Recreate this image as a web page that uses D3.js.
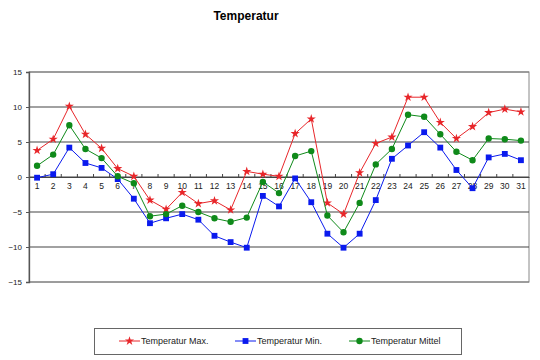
<!DOCTYPE html>
<html><head><meta charset="utf-8">
<script src="https://cdn.jsdelivr.net/npm/d3@7"></script>
<style>body{margin:0;background:#fff}svg{display:block;font-family:Arial,"Liberation Sans",sans-serif}</style>
</head><body><svg id="c" width="540" height="360"></svg>
<script>
const days = d3.range(1, 32).map(String);
const tempMax = [3.8,5.4,10.1,6.1,4.1,1.2,0.1,-3.3,-4.6,-2.2,-3.8,-3.4,-4.7,0.8,0.4,0.1,6.2,8.3,-3.7,-5.3,0.6,4.8,5.7,11.4,11.4,7.8,5.5,7.2,9.2,9.7,9.3];
const tempMin = [-0.1,0.4,4.2,2.0,1.3,-0.3,-3.1,-6.6,-5.9,-5.3,-6.1,-8.4,-9.3,-10.1,-2.7,-4.2,-0.2,-3.6,-8.1,-10.1,-8.1,-3.3,2.6,4.5,6.4,4.2,1.0,-1.6,2.8,3.3,2.4];
const tempMittel = [1.6,3.2,7.4,4.0,2.7,0.1,-0.9,-5.6,-5.3,-4.1,-5.0,-5.9,-6.4,-5.8,-0.7,-2.3,3.0,3.7,-5.5,-7.9,-3.7,1.8,4.0,8.9,8.6,6.1,3.6,2.4,5.5,5.4,5.2];
const yTicks = [-15,-10,-5,0,5,10,15];
const seriesNames = ["Temperatur Max.","Temperatur Min.","Temperatur Mittel"];
const title = "Temperatur";

const series = [
  {name: seriesNames[0], values: tempMax, color: "#e8262a", symbol: d3.symbolStar, size: 26},
  {name: seriesNames[1], values: tempMin, color: "#0a1aee", symbol: d3.symbolSquare, size: 34},
  {name: seriesNames[2], values: tempMittel, color: "#0f8a1a", symbol: d3.symbolCircle, size: 32}
];

const svg = d3.select("#c");
const L = 29, R = 529, T = 72, B = 282;
const x = d3.scaleBand().domain(days).range([L, R]);
const y = d3.scaleLinear().domain([-15, 15]).range([B, T]);

svg.append("text").attr("x", 246).attr("y", 20).attr("text-anchor", "middle")
  .attr("font-size", 12).attr("font-weight", "bold").text(title);

// plot frame
svg.append("rect").attr("x", L).attr("y", T).attr("width", R - L).attr("height", B - T)
  .attr("fill", "none").attr("stroke", "#888").attr("stroke-width", 1);

// gridlines
svg.append("g").selectAll("line").data(yTicks).join("line")
  .attr("x1", L).attr("x2", R).attr("y1", d => y(d)).attr("y2", d => y(d))
  .attr("stroke", d => (d === 15 || d === -15) ? "#777" : "#444").attr("stroke-width", 1.2);

// y axis
const ya = svg.append("g").attr("transform", `translate(${L},0)`)
  .call(d3.axisLeft(y).tickValues(yTicks).tickSize(3).tickPadding(4).tickFormat(d3.format("d")));
ya.select(".domain").attr("stroke", "#555").attr("stroke-width", 1.3);
ya.selectAll("line").attr("stroke", "#555");
ya.selectAll("text").attr("font-size", 8).attr("fill", "#222").attr("font-family", "Arial, 'Liberation Sans', sans-serif");

// x axis at 0
const xa = svg.append("g").attr("transform", `translate(0,${y(0)})`)
  .call(d3.axisBottom(x).tickSize(0).tickPadding(6));
xa.select(".domain").attr("stroke", "#444").attr("stroke-width", 1.2);
xa.selectAll("text").attr("font-size", 8.5).attr("fill", "#222").attr("font-family", "Arial, 'Liberation Sans', sans-serif");
svg.append("g").selectAll("line").data(days.slice(1)).join("line")
  .attr("x1", d => x(d)).attr("x2", d => x(d)).attr("y1", y(0) - 3).attr("y2", y(0))
  .attr("stroke", "#444").attr("stroke-width", 1);

const cx = d => x(d) + x.bandwidth() / 2;
const line = d3.line().x((v, i) => cx(days[i])).y(v => y(v));

series.forEach(s => {
  const g = svg.append("g");
  g.append("path").attr("d", line(s.values)).attr("fill", "none")
    .attr("stroke", s.color).attr("stroke-width", 1);
  g.selectAll("path.m").data(s.values).join("path").attr("class", "m")
    .attr("transform", (v, i) => `translate(${cx(days[i])},${y(v)})`)
    .attr("d", d3.symbol().type(s.symbol).size(s.size)).attr("fill", s.color);
});

// legend
svg.append("rect").attr("x", 94.5).attr("y", 328.5).attr("width", 367).attr("height", 26)
  .attr("fill", "#fff").attr("stroke", "#666").attr("stroke-width", 1);
const lx = [119, 235, 349];
series.forEach((s, i) => {
  const g = svg.append("g").attr("transform", `translate(${lx[i]},341)`);
  g.append("line").attr("x1", 0).attr("x2", 21).attr("stroke", s.color).attr("stroke-width", 1);
  g.append("path").attr("transform", "translate(10.5,0)")
    .attr("d", d3.symbol().type(s.symbol).size(s.size)).attr("fill", s.color);
  g.append("text").attr("x", 22).attr("y", 3).attr("font-size", 9).attr("fill", "#222").text(s.name);
});
</script></body></html>
